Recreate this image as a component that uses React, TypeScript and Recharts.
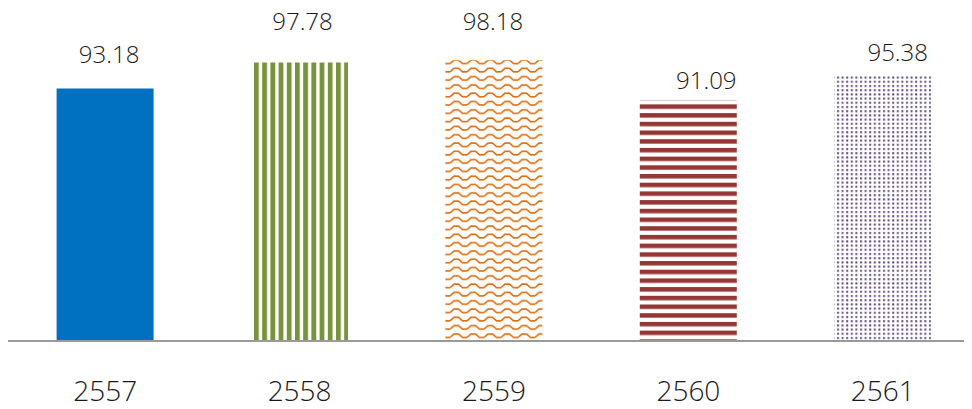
import React from "react";
import { BarChart, Bar, XAxis, YAxis, Cell, LabelList } from "recharts";

const years = ["2557", "2558", "2559", "2560", "2561"];
const scores = [93.18, 97.78, 98.18, 91.09, 95.38];
const fills = ["#0070C0", "url(#vStripes)", "url(#waves)", "url(#hStripes)", "url(#dots)"];

// hand-placed value labels (offset from the top centre of each bar)
const labelNudge = [
  { dx: 4, dy: -35 },
  { dx: 3, dy: -42 },
  { dx: -1, dy: -40 },
  { dx: 18, dy: -21 },
  { dx: 15, dy: -25 }
];

const data = years.map((year, i) => ({ year, score: scores[i] }));

const FONT = "'Open Sans', sans-serif";

const ValueLabel = (props: any) => {
  const { x, y, width, index, value } = props;
  const n = labelNudge[index] || { dx: 0, dy: -20 };
  return (
    <text
      x={x + width / 2 + n.dx}
      y={y + n.dy}
      textAnchor="middle"
      dominantBaseline="central"
      fontSize={24}
      fontWeight={300}
      fontFamily={FONT}
      fill="#1a1a1a"
    >
      {value.toFixed(2)}
    </text>
  );
};

const YearTick = (props: any) => {
  const { x, y, payload } = props;
  return (
    <text
      x={x}
      y={y}
      dy={41}
      textAnchor="middle"
      dominantBaseline="central"
      fontSize={28}
      fontWeight={300}
      fontFamily={FONT}
      fill="#1a1a1a"
    >
      {payload.value}
    </text>
  );
};

const App = () => {
  return (
    <div style={{ width: 964, height: 409, marginTop: -8, overflow: "hidden" }}>
      <BarChart
        width={972}
        height={409}
        data={data}
        margin={{ top: 50, right: 0, left: 0, bottom: 8 }}
        barCategoryGap="25%"
      >
        <defs>
          <pattern id="vStripes" width="8.2" height="10" patternUnits="userSpaceOnUse">
            <rect width="8.2" height="10" fill="#fff" />
            <rect x="0" width="4.8" height="10" fill="#77933C" />
          </pattern>
          <pattern id="waves" width="17" height="8.3" patternUnits="userSpaceOnUse">
            <rect width="17" height="8.3" fill="#fff" />
            <path
              d="M0 5.5 L4 2 L8.5 2 L12.5 5.5 L17 5.5"
              stroke="#E46C0A"
              strokeWidth="1.6"
              fill="none"
            />
          </pattern>
          <pattern id="hStripes" width="10" height="8.7" patternUnits="userSpaceOnUse">
            <rect width="10" height="8.7" fill="#fff" />
            <rect y="0" width="10" height="4.5" fill="#953735" />
          </pattern>
          <pattern id="dots" width="4.6" height="4.2" patternUnits="userSpaceOnUse">
            <rect width="4.6" height="4.2" fill="#fff" />
            <rect x="1" y="1" width="2" height="2" fill="#604A7B" />
          </pattern>
        </defs>
        <XAxis
          dataKey="year"
          height={60}
          axisLine={{ stroke: "#9a9a9a", strokeWidth: 2 }}
          tickLine={false}
          tick={<YearTick />}
          interval={0}
        />
        <YAxis hide domain={[48.5, 100]} />
        <Bar dataKey="score" isAnimationActive={false}>
          {data.map((d, i) => (
            <Cell key={d.year} fill={fills[i]} />
          ))}
          <LabelList dataKey="score" content={<ValueLabel />} />
        </Bar>
      </BarChart>
    </div>
  );
};

export default App;
